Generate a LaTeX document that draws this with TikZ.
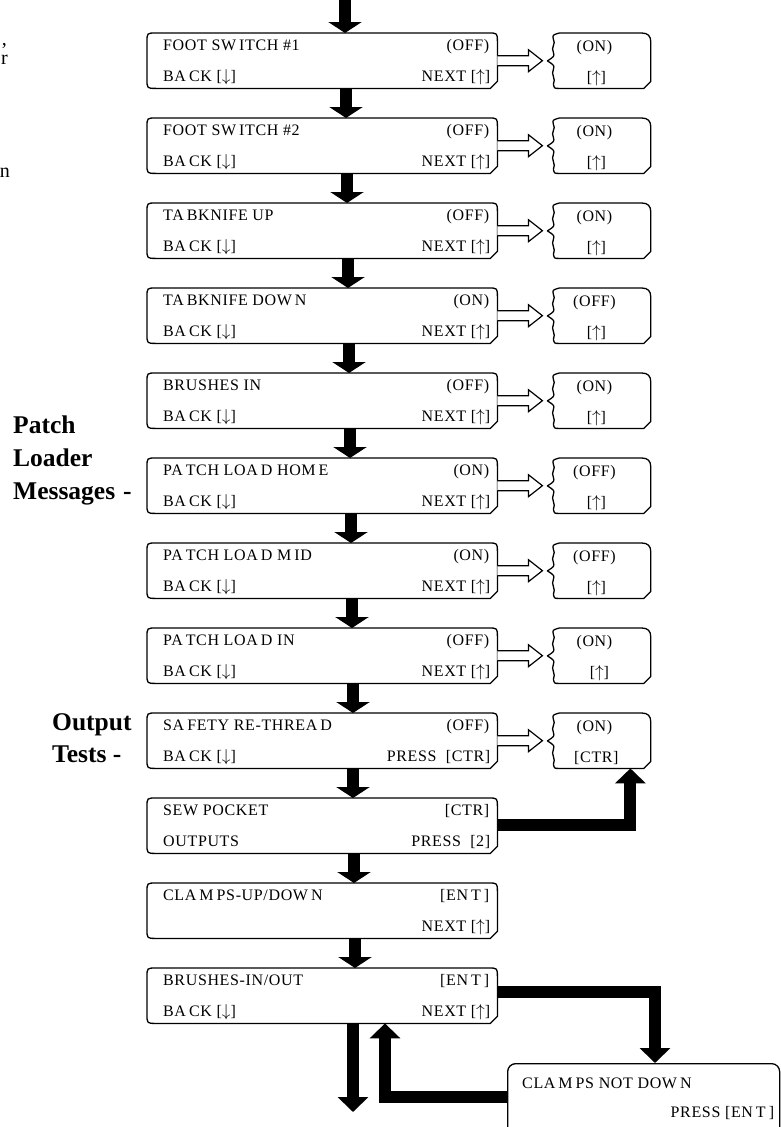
\documentclass[tikz,border=0pt]{standalone}
\usepackage{fontspec}
\setmainfont{Liberation Serif}
\newfontfamily\lcdface[LetterSpace=4]{Liberation Serif}
\usetikzlibrary{arrows.meta,calc}

% small gap used inside the display texts
\newcommand\ksp{\kern3pt}
% key arrows
\newcommand\kup{$\uparrow$}
\newcommand\kdn{$\downarrow$}

% a two-line display panel: name, top y, upper-left, upper-right, lower-left, lower-right
\newcommand\mkscreen[6]{%
  \node[screen] (#1) at (147,#2) {};
  \draw[outline] ($(#1.north west)+(9,0)$) -- ($(#1.north east)+(-9,0)$)
    .. controls (#1.north east) .. ($(#1.north east)+(0,9)$)
    -- ($(#1.south east)+(0,-7)$) -- ($(#1.south east)+(-7,0)$)
    -- ($(#1.south west)+(9,0)$) .. controls (#1.south west) .. ($(#1.south west)+(0,-9)$)
    -- ($(#1.north west)+(0,9)$) .. controls (#1.north west) .. ($(#1.north west)+(9,0)$) -- cycle;
  \node[lcd,anchor=base west] (#1-ul) at ($(#1.north west)+(16,17)$) {#3};
  \node[lcd,anchor=base east] (#1-ur) at ($(#1.north east)+(-8,17)$) {#4};
  \node[lcd,anchor=base west] (#1-ll) at ($(#1.north west)+(16,48)$) {#5};
  \node[lcd,anchor=base east] (#1-lr) at ($(#1.north east)+(-7,48)$) {#6};
}

% the toggled state shown beside a panel: name, panel, upper text, lower text
\newcommand\mkstate[4]{%
  \node[inner sep=0pt, minimum width=100pt, minimum height=55pt, anchor=north west] (#1) at ($(#2.north east)+(53,0)$) {};
  \draw[outline] let \p1=(#1.north west), \p2=(#1.south east) in
    (\x1+9pt,\y1) -- (\x2-9pt,\y1)
    .. controls (\x2-3pt,\y1) and (\x2,\y1-3pt) .. (\x2,\y1-9pt)
    -- (\x2,\y2+7pt) -- (\x2-7pt,\y2) -- (\x1+8pt,\y2)
    .. controls (\x1+4pt,\y2) .. (\x1+3pt,\y2+4pt)
    .. controls (\x1+6pt,\y2+10pt) and (\x1+0pt,\y2+14pt) .. (\x1+3pt,\y2+19pt)
    .. controls (\x1+4pt,\y2+23pt) .. (\x1-3pt,\y2+27.5pt)
    .. controls (\x1+4pt,\y2+32pt) .. (\x1+3pt,\y2+36pt)
    .. controls (\x1+0pt,\y2+41pt) and (\x1+6pt,\y2+45pt) .. (\x1+3pt,\y2+49pt)
    .. controls (\x1+2pt,\y1-2pt) .. (\x1+9pt,\y1) -- cycle;
  \node[lcd,anchor=base] (#1-u) at ($(#1.north west)+(44,18)$) {#3};
  \node[lcd,anchor=base] (#1-l) at ($(#1.north west)+(46,49)$) {#4};
  \draw[hollow] let \p1=(#2.east), \p2=(#1.west) in
    (\x1,\y1+5pt) -- (\x2-22pt,\y1+5pt) -- (\x2-22pt,\y1+11pt) -- (\x2-8pt,\y1)
    -- (\x2-22pt,\y1-11pt) -- (\x2-22pt,\y1-5pt) -- (\x1,\y1-5pt);
}

\begin{document}
\begin{tikzpicture}[x=1pt,y=-1pt,
  screen/.style={minimum width=350pt, minimum height=55pt, anchor=north west, inner sep=0pt},
  lcd/.style={font=\lcdface\fontsize{16}{19}\selectfont, inner sep=0pt},
  outline/.style={draw, line width=1.3pt, line join=round},
  hollow/.style={draw, line width=1.2pt, fill=white, line join=miter},
  flow/.style={line width=12pt, -{Triangle[width=33pt,length=11pt]}},
  flowthin/.style={line width=12pt, -{Triangle[width=30pt,length=15pt]}},
  label/.style={font=\bfseries\fontsize{25.5}{28}\selectfont, inner sep=0pt, anchor=base west},
  frag/.style={font=\fontsize{20}{24}\selectfont, inner sep=0pt, anchor=base east}
]
\fill[white] (0,0) rectangle (780,1127);
\useasboundingbox (0,0) rectangle (780,1127);

% display panels
\mkscreen{s1}{33}{FOOT SW\ksp ITCH \#1}{(OFF)}{BA\ksp CK [\kdn]}{NEXT [\kup]}
\mkscreen{s2}{118}{FOOT SW\ksp ITCH \#2}{(OFF)}{BA\ksp CK [\kdn]}{NEXT [\kup]}
\mkscreen{s3}{203}{TA\ksp BKNIFE UP}{(OFF)}{BA\ksp CK [\kdn]}{NEXT [\kup]}
\mkscreen{s4}{288}{TA\ksp BKNIFE DOW\ksp N}{(ON)}{BA\ksp CK [\kdn]}{NEXT [\kup]}
\mkscreen{s5}{373}{BRUSHES IN}{(OFF)}{BA\ksp CK [\kdn]}{NEXT [\kup]}
\mkscreen{s6}{458}{PA\ksp TCH LOA\ksp D HOM\ksp E}{(ON)}{BA\ksp CK [\kdn]}{NEXT [\kup]}
\mkscreen{s7}{543}{PA\ksp TCH LOA\ksp D M\ksp ID}{(ON)}{BA\ksp CK [\kdn]}{NEXT [\kup]}
\mkscreen{s8}{628}{PA\ksp TCH LOA\ksp D IN}{(OFF)}{BA\ksp CK [\kdn]}{NEXT [\kup]}
\mkscreen{s9}{713}{SA\ksp FETY RE-THREA\ksp D}{(OFF)}{BA\ksp CK [\kdn]}{PRESS\ \ [CTR]}
\mkscreen{s10}{798}{SEW POCKET}{[CTR]}{OUTPUTS}{PRESS\ \ [2]}
\mkscreen{s11}{883}{CLA\ksp M\ksp PS-UP/DOW\ksp N}{[EN\ksp T\ksp]}{}{NEXT [\kup]}
\mkscreen{s12}{968}{BRUSHES-IN/OUT}{[EN\ksp T\ksp]}{BA\ksp CK [\kdn]}{NEXT [\kup]}

% toggled states
\mkstate{t1}{s1}{(ON)}{[\kup]}
\mkstate{t2}{s2}{(ON)}{[\kup]}
\mkstate{t3}{s3}{(ON)}{[\kup]}
\mkstate{t4}{s4}{(OFF)}{[\kup]}
\mkstate{t5}{s5}{(ON)}{[\kup]}
\mkstate{t6}{s6}{(OFF)}{[\kup]}
\mkstate{t7}{s7}{(OFF)}{[\kup]}
\mkstate{t8}{s8}{(ON)}{\kern6pt[\kup]}
\mkstate{t9}{s9}{(ON)}{[CTR]}

% warning panel
\node[draw, line width=1.3pt, rounded corners=8pt, anchor=north west, inner sep=0pt,
  minimum width=272pt, minimum height=72pt] (cnd) at (507,1063) {};
\node[lcd,anchor=base west] (cnd-u) at ($(cnd.north west)+(15,25)$) {CLA\ksp M\ksp PS NOT DOW\ksp N};
\node[lcd,anchor=base east] (cnd-l) at ($(cnd.north east)+(-6,54)$) {PRESS [EN\ksp T\ksp]};

% main flow
\coordinate (entry) at (345,0);
\draw[flow] (entry) -- (entry |- s1.north);
\foreach \a/\b/\dx in {s1/s2/199,s2/s3/200,s3/s4/201,s4/s5/202,s5/s6/203,s6/s7/204,
    s7/s8/205,s8/s9/206,s9/s10/206,s10/s11/207,s11/s12/208}
  \draw[flow] ($(\a.south west)+(\dx,0)$) -- ($(\b.north west)+(\dx,0)$);

% branches
\draw[flowthin] ($(s10.north east)+(0,27)$) -| ($(t9.south west)+(80,0)$);
\draw[flowthin] ($(s12.north east)+(0,24)$) -| ($(cnd.north west)+(148,0)$);
\draw[flowthin] ($(cnd.north west)+(0,34)$) -| ($(s12.south west)+(238,0)$);
\coordinate (exit) at (353,1112);
\draw[flowthin] (exit |- s12.south) -- (exit);

% side headings
\node[label] (h1) at (13,433) {Patch};
\node[label] (h2) at (13,466) {Loader};
\node[label] (h3) at (13,499) {Messages\hspace{8pt}-};
\node[label] (h4) at (52,730) {Output};
\node[label] (h5) at (52,762) {Tests -};

% ends of lines running in from the left
\node[frag] (f1) at (7,45) {,};
\node[frag] (f2) at (8,64) {r};
\node[frag] (f3) at (10,177) {n};
\end{tikzpicture}
\end{document}
